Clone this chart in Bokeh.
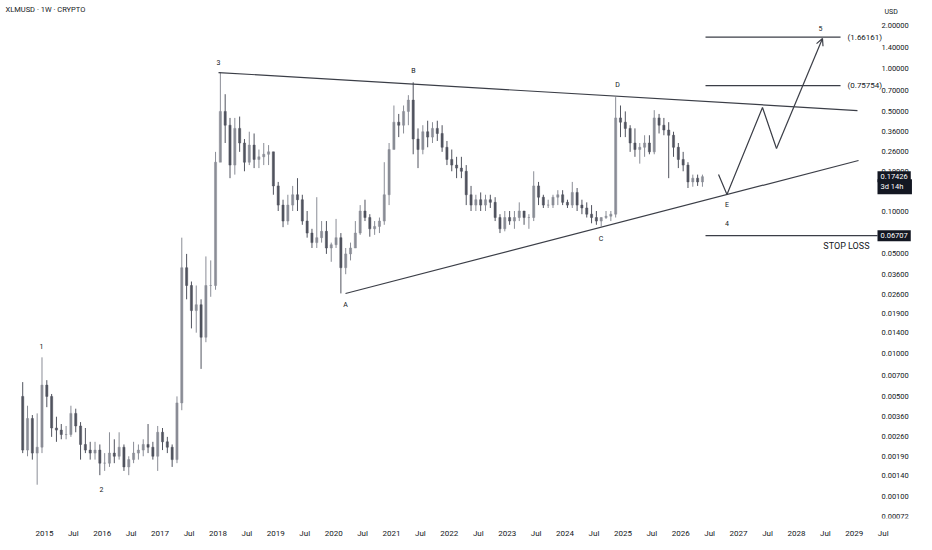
import pandas as pd
from bokeh.plotting import figure
from bokeh.models import (Range1d, FixedTicker, PrintfTickFormatter, CustomJSTickFormatter,
                          Label, Arrow, OpenHead, ColumnDataSource)
from bokeh.embed import file_html
from bokeh.resources import INLINE
from bokeh.core.properties import value

# ---------------- data (monthly OHLC) ----------------
start_month = "2014-08-01"
first_open = 0.0050
highs = [
    0.0063, 0.0043, 0.0037, 0.0038, 0.0094,
    0.0065, 0.0052, 0.0036, 0.0032, 0.0031, 0.0043, 0.0041, 0.0033, 0.0030, 0.0024, 0.0024, 0.0023,
    0.0020, 0.0028, 0.0025, 0.0028, 0.0023, 0.0019, 0.0024, 0.0023, 0.0025, 0.0032, 0.0024, 0.0031,
    0.0030, 0.0026, 0.0023, 0.0050, 0.065, 0.050, 0.032, 0.030, 0.024, 0.048, 0.045, 0.26,
    0.94, 0.66, 0.45, 0.45, 0.46, 0.32, 0.36, 0.35, 0.27, 0.30, 0.29, 0.26,
    0.16, 0.12, 0.13, 0.15, 0.17, 0.13, 0.10, 0.075, 0.125, 0.085, 0.085,
    0.060, 0.088, 0.070, 0.055, 0.060, 0.085, 0.11, 0.12, 0.095, 0.085, 0.09, 0.22,
    0.30, 0.55, 0.48, 0.55, 0.65, 0.80, 0.38, 0.40, 0.43, 0.42, 0.43, 0.40,
    0.31, 0.27, 0.24, 0.24, 0.21, 0.15, 0.13, 0.135, 0.13, 0.13, 0.125, 0.095,
    0.10, 0.10, 0.10, 0.115, 0.10, 0.095, 0.19, 0.16, 0.13, 0.12, 0.13, 0.14,
    0.14, 0.12, 0.16, 0.145, 0.12, 0.115, 0.11, 0.10, 0.09, 0.10, 0.10, 0.63,
    0.55, 0.50, 0.40, 0.38, 0.30, 0.34, 0.34, 0.51, 0.48, 0.45, 0.42, 0.36,
    0.30, 0.26, 0.22, 0.18, 0.18, 0.18,
]
lows = [
    0.0020, 0.0019, 0.0018, 0.0012, 0.0020,
    0.0042, 0.0026, 0.0024, 0.0025, 0.0025, 0.0026, 0.0028, 0.0018, 0.0020, 0.0018, 0.0018, 0.0014,
    0.0015, 0.0016, 0.0017, 0.0018, 0.0015, 0.0014, 0.0017, 0.0018, 0.0019, 0.0020, 0.0018, 0.0015,
    0.0021, 0.0020, 0.0016, 0.0017, 0.0040, 0.024, 0.015, 0.014, 0.0078, 0.012, 0.025, 0.028,
    0.30, 0.30, 0.17, 0.18, 0.26, 0.19, 0.21, 0.20, 0.20, 0.21, 0.21, 0.13,
    0.10, 0.077, 0.08, 0.10, 0.10, 0.08, 0.065, 0.055, 0.055, 0.060, 0.050,
    0.044, 0.055, 0.0264, 0.036, 0.045, 0.058, 0.068, 0.085, 0.066, 0.068, 0.07, 0.08,
    0.11, 0.30, 0.33, 0.35, 0.40, 0.25, 0.20, 0.25, 0.28, 0.30, 0.31, 0.26,
    0.21, 0.19, 0.17, 0.17, 0.11, 0.10, 0.10, 0.10, 0.10, 0.105, 0.085, 0.07,
    0.072, 0.08, 0.075, 0.085, 0.08, 0.075, 0.085, 0.11, 0.105, 0.105, 0.105, 0.11,
    0.11, 0.105, 0.105, 0.10, 0.095, 0.09, 0.082, 0.08, 0.078, 0.088, 0.085, 0.09,
    0.33, 0.33, 0.26, 0.24, 0.215, 0.24, 0.25, 0.25, 0.35, 0.34, 0.17, 0.24,
    0.20, 0.19, 0.145, 0.148, 0.15, 0.148,
]
closes = [
    0.0021, 0.0035, 0.0020, 0.0022, 0.0060,
    0.0050, 0.0030, 0.0029, 0.0027, 0.0027, 0.0038, 0.0031, 0.0023, 0.0021, 0.0020, 0.0021, 0.0017,
    0.0017, 0.0020, 0.0019, 0.0022, 0.0016, 0.0018, 0.0020, 0.0021, 0.0023, 0.0022, 0.0019, 0.0028,
    0.0024, 0.0022, 0.0018, 0.0045, 0.040, 0.030, 0.020, 0.022, 0.013, 0.030, 0.030, 0.22,
    0.50, 0.40, 0.21, 0.38, 0.30, 0.22, 0.29, 0.23, 0.24, 0.25, 0.26, 0.15,
    0.11, 0.085, 0.11, 0.13, 0.12, 0.085, 0.07, 0.06, 0.065, 0.072, 0.055,
    0.058, 0.065, 0.040, 0.050, 0.055, 0.070, 0.10, 0.09, 0.075, 0.078, 0.085, 0.13,
    0.27, 0.42, 0.40, 0.50, 0.60, 0.32, 0.27, 0.36, 0.33, 0.38, 0.35, 0.28,
    0.23, 0.21, 0.20, 0.19, 0.13, 0.11, 0.12, 0.11, 0.12, 0.115, 0.09, 0.075,
    0.09, 0.085, 0.09, 0.10, 0.09, 0.09, 0.15, 0.125, 0.11, 0.11, 0.125, 0.13,
    0.115, 0.11, 0.135, 0.11, 0.105, 0.095, 0.09, 0.085, 0.09, 0.092, 0.095, 0.45,
    0.42, 0.38, 0.30, 0.27, 0.28, 0.30, 0.26, 0.45, 0.40, 0.37, 0.34, 0.28,
    0.23, 0.21, 0.16, 0.17, 0.16, 0.17426,
]

# y-axis tick values and x-axis tick years
price_ticks = [0.00072, 0.001, 0.0014, 0.0019, 0.0026, 0.0036, 0.005, 0.007, 0.01, 0.014,
               0.019, 0.026, 0.036, 0.05, 0.07, 0.1, 0.14, 0.19, 0.26, 0.36, 0.5, 0.7, 1.0, 1.4, 2.0]
year_ticks = [2015 + 0.5 * i for i in range(30)]

# drawn analysis (years, prices)
upper_line_t = [2018.010, 2029.055]
upper_line_p = [0.937, 0.507]
lower_line_t = [2020.205, 2029.073]
lower_line_p = [0.02637, 0.2262]
path_t = [2026.653, 2026.799, 2027.413, 2027.655]
path_p = [0.1804, 0.1305, 0.5324, 0.2747]
arrow_tip_t, arrow_tip_p = 2028.450, 1.624
target_levels = [1.66161, 0.75754]
level_t = [2026.428, 2028.762]
level_label_t = 2028.883
stop_level = 0.06707
last_price = 0.17426
wave_labels = ["1", "2", "3", "A", "B", "C", "D", "E", "4", "5"]
wave_t = [2014.950, 2015.987, 2018.010, 2020.205, 2021.380, 2024.622, 2024.907, 2026.799, 2026.799, 2028.416]
wave_p = [0.01120, 0.001111, 1.102, 0.02172, 0.9527, 0.0641, 0.772, 0.1093, 0.0817, 1.909]

# ---------------- build ----------------
dates = pd.date_range(start_month, periods=len(closes), freq="MS")
t = [d.year + (d.month - 1 + 0.5) / 12 for d in dates]
opens = [first_open] + closes[:-1]
up = [c >= o for o, c in zip(opens, closes)]
UP, DOWN = "#8a8d96", "#50535e"
src = ColumnDataSource(dict(
    t=t, o=opens, h=highs, l=lows, c=closes,
    top=[max(o, c) for o, c in zip(opens, closes)],
    bot=[min(o, c) for o, c in zip(opens, closes)],
    col=[UP if u else DOWN for u in up],
))

PXY = 57.85                       # pixels per year in the reference
X0 = 2015 + (0 - 43.9) / PXY      # frame left edge
X1 = 2015 + (916 - 43.9) / PXY    # frame right edge
XAX = 2015 + (872 - 43.9) / PXY   # price axis position
Y0, Y1 = 10 ** ((68 - 518) / 142.5), 10 ** (68 / 142.5)
FONT = "Roboto"
INK = "#131722"
LINE = "#3b3e47"

p = figure(frame_width=916, frame_height=518, y_axis_type="log", y_axis_location="right",
           x_range=Range1d(X0, X1), y_range=Range1d(Y0, Y1),
           output_backend="svg", toolbar_location=None,
           min_border_left=0, min_border_top=0, min_border_right=0, min_border_bottom=0)
p.outline_line_color = None
p.grid.visible = False
p.background_fill_color = "white"

for ax in (p.xaxis[0], p.yaxis[0]):
    ax.axis_line_color = None
    ax.major_tick_line_color = None
    ax.minor_tick_line_color = None
    ax.major_label_text_font = FONT
    ax.major_label_text_color = INK
p.xaxis[0].major_label_text_font_size = "8px"
p.yaxis[0].major_label_text_font_size = "7.5px"

p.yaxis[0].ticker = FixedTicker(ticks=price_ticks)
p.yaxis[0].formatter = PrintfTickFormatter(format="%.5f")
p.yaxis[0].major_label_standoff = 3
p.yaxis[0].fixed_location = XAX
p.xaxis[0].ticker = FixedTicker(ticks=year_ticks)
p.xaxis[0].formatter = CustomJSTickFormatter(
    code="return (Math.abs(tick - Math.round(tick)) < 1e-6) ? String(Math.round(tick)) : 'Jul';")
p.xaxis[0].major_label_standoff = 4

# candles
p.segment(x0="t", x1="t", y0="l", y1="h", source=src, line_color="col", line_width=1)
p.vbar(x="t", width=0.45 / 12, top="top", bottom="bot", source=src,
       fill_color="col", line_color="col", line_width=0.5)

# trendlines
p.line(upper_line_t, upper_line_p, line_color=LINE, line_width=1.2)
p.line(lower_line_t, lower_line_p, line_color=LINE, line_width=1.2)

# target levels
for lv in target_levels:
    p.line(level_t, [lv, lv], line_color=LINE, line_width=1.2)
p.text(x=[level_label_t] * len(target_levels), y=target_levels,
       text=["(%.5f)" % lv for lv in target_levels],
       text_font=value(FONT), text_font_size="8px", text_color=INK,
       text_baseline="middle", text_align="left")

# stop loss
p.line([level_t[0], XAX + 5 / PXY], [stop_level, stop_level], line_color=LINE, line_width=1.2)
p.add_layout(Label(x=XAX - 3 / PXY, y=stop_level, y_offset=-10, text="STOP LOSS",
                   text_font=FONT, text_font_size="9px", text_color=INK,
                   text_align="right", text_baseline="middle"))

# projected path
p.line(path_t, path_p, line_color=LINE, line_width=1.2)
p.add_layout(Arrow(x_start=path_t[-1], y_start=path_p[-1], x_end=arrow_tip_t, y_end=arrow_tip_p,
                   line_color=LINE, line_width=1.2,
                   end=OpenHead(size=7, line_color=LINE, line_width=1.2)))

# wave labels
p.text(x=wave_t, y=wave_p, text=wave_labels, text_font=value(FONT), text_font_size="7px",
       text_color=INK, text_align="center", text_baseline="middle")

# title
p.add_layout(Label(x=5, y=509, x_units="screen", y_units="screen", text="XLMUSD · 1W · CRYPTO",
                   text_font=FONT, text_font_size="7.5px", text_color=INK,
                   text_baseline="middle", text_align="left"))

# price-axis markers
px = XAX + 5 / PXY
box = dict(text_font=FONT, text_font_size="7.5px", text_color="white",
           background_fill_color="#131722", text_baseline="middle", text_align="left", padding=3)
p.add_layout(Label(x=px, y=last_price, text="%.5f" % last_price, **box))
p.add_layout(Label(x=px, y=last_price, y_offset=-10, text="3d 14h\u00a0\u00a0\u00a0", **box))
p.add_layout(Label(x=px, y=stop_level, text="%.5f" % stop_level, **box))
p.add_layout(Label(x=XAX + 12 / PXY, y=10 ** ((68 - 11) / 142.5), text="USD", text_font=FONT,
                   text_font_size="7px", text_color=INK,
                   text_baseline="middle", text_align="left"))

open("out.html", "w").write(file_html(p, INLINE))
